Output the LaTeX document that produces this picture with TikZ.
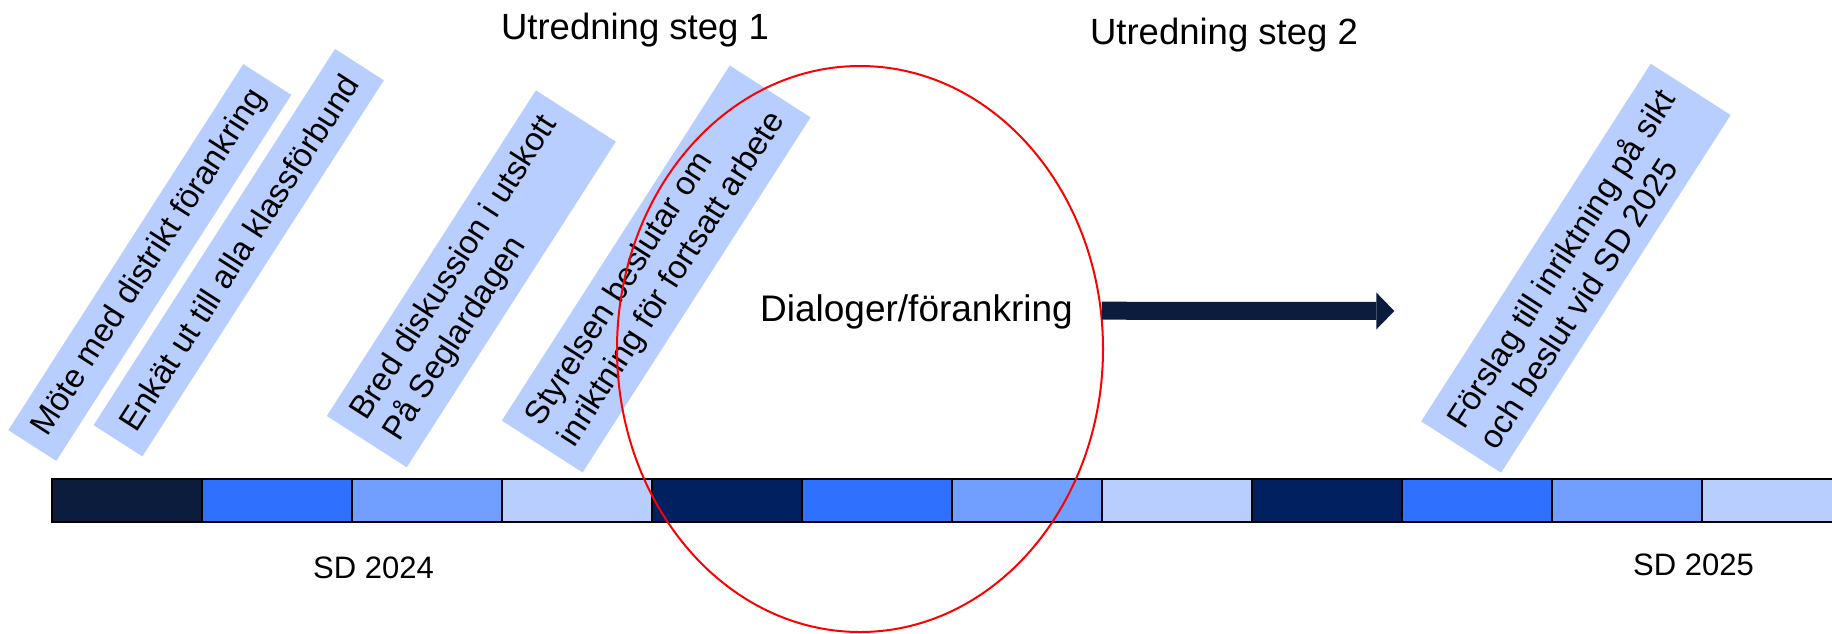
\documentclass[tikz,border=0pt]{standalone}
\usepackage{fontspec}
\setmainfont{Liberation Sans}
\usetikzlibrary{shapes.geometric,arrows.meta}

\definecolor{darknavy}{HTML}{0B1C3D}
\definecolor{navy}{HTML}{002060}
\definecolor{midblue}{HTML}{3070FF}
\definecolor{softblue}{HTML}{709FFF}
\definecolor{paleblue}{HTML}{B8CEFF}

\newcommand{\notesize}{\fontsize{32.8}{39}\selectfont}
\newcommand{\titlesize}{\fontsize{36.5}{43}\selectfont}
\newcommand{\dialogsize}{\fontsize{37}{44}\selectfont}
\newcommand{\datesize}{\fontsize{31}{37}\selectfont}

\begin{document}
\begin{tikzpicture}[x=1pt, y=-1pt,
    note/.style={rotate=57.3, fill=paleblue, inner sep=0pt, align=left, font=\notesize},
    segment/.style={draw=black, line width=1.5pt, minimum width=150pt, minimum height=43pt, inner sep=0pt},
    ring/.style={ellipse, draw=red, line width=2pt, minimum width=486pt, minimum height=566pt, inner sep=0pt},
    bigarrow/.style={draw=darknavy, line width=18pt, -{Triangle[length=18pt, width=37pt, line width=0pt]}}
  ]
    \useasboundingbox (0,0) rectangle (1832,633);
    \clip (0,0) rectangle (1832,633);

    % notes above the timeline
    \node[note, minimum width=435pt, minimum height=57pt] (moete) at (149.8,262.5) {Möte med distrikt förankring};
    \node[note, minimum width=447pt, minimum height=58pt] (enkaet) at (238.7,252.7) {Enkät ut till alla klassförbund};
    \node[note, minimum width=387pt, minimum height=95pt] (bred) at (471.3,278.8) {Bred diskussion i utskott\\På Seglardagen};
    \node[note, minimum width=422pt, minimum height=96pt] (styrelsen) at (656.2,269) {Styrelsen beslutar om\\inriktning för fortsatt arbete};
    \node[note, minimum width=425pt, minimum height=95pt] (forslag) at (1575.9,268.2) {Förslag till inriktning på sikt\\och beslut vid SD 2025};

    % timeline
    \foreach \tone [count=\i from 0] in {darknavy, midblue, softblue, paleblue, navy, midblue, softblue, paleblue, navy, midblue, softblue, paleblue}
      \node[segment, fill=\tone] (seg\i) at ({127+150*\i},500.5) {};

    \node[font=\titlesize, anchor=base] (stage1) at (635,39) {Utredning steg 1};
    \node[font=\titlesize, anchor=base] (stage2) at (1224,44) {Utredning steg 2};
    \node[font=\datesize, anchor=base] (sd2024) at (373.5,578) {SD 2024};
    \node[font=\datesize, anchor=base] (sd2025) at (1693.5,575.5) {SD 2025};

    \node[ring] (ring) at (860,349) {};
    \node[font=\dialogsize, anchor=base] (dialog) at (916.5,321.8) {Dialoger/förankring};

    \coordinate (arrowtip) at (1394.3,311);
    \draw[bigarrow] (ring.9) -- (arrowtip);
\end{tikzpicture}
\end{document}
